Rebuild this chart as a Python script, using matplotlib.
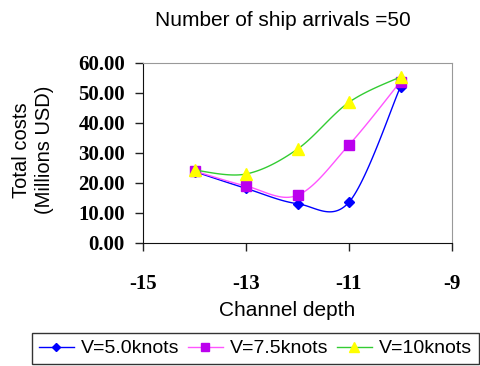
import numpy as np
import matplotlib.pyplot as plt

# datos
depth = [-14, -13, -12, -11, -10]
v50 = [23.8, 18.2, 13.1, 13.6, 52.1]
v75 = [24.0, 19.0, 15.9, 32.7, 53.8]
v100 = [24.3, 23.0, 31.3, 46.9, 55.4]
nombres = ['V=5.0knots', 'V=7.5knots', 'V=10knots']
xticks = [-15, -13, -11, -9]
yticks = [0, 10, 20, 30, 40, 50, 60]


def suavizar(x, y, n=30):
    # curva tipo Catmull-Rom (como el suavizado de Excel)
    x = np.asarray(x, float)
    y = np.asarray(y, float)
    px = np.concatenate([[x[0]], x, [x[-1]]])
    py = np.concatenate([[y[0]], y, [y[-1]]])
    xs, ys = [], []
    t = np.linspace(0, 1, n)
    for i in range(1, len(px) - 2):
        for p, out in ((px, xs), (py, ys)):
            p0, p1, p2, p3 = p[i - 1], p[i], p[i + 1], p[i + 2]
            c1 = p1 + (p2 - p0) / 6
            c2 = p2 - (p3 - p1) / 6
            out.extend((1 - t) ** 3 * p1 + 3 * (1 - t) ** 2 * t * c1
                       + 3 * (1 - t) * t ** 2 * c2 + t ** 3 * p2)
    return xs, ys


fig = plt.figure(figsize=(4.81, 3.66), dpi=100)
ax = fig.add_axes([143 / 481, 1 - 243 / 366, 309 / 481, 180 / 366])

estilos = [('#0000ff', '#0000ff', 'D', 5, 4),
           ('#ff55ff', '#bb00ee', 's', 7.5, 6),
           ('#33cc33', '#ffff00', '^', 8, 7)]
for serie, nombre, (c, mc, m, ms, lms) in zip([v50, v75, v100], nombres, estilos):
    xs, ys = suavizar(depth, serie)
    ax.plot(xs, ys, color=c, lw=1)
    ax.plot(depth, serie, ls='none', marker=m, color=mc, mec=mc, ms=ms)
    ax.plot([], [], color=c, lw=1, marker=m, mfc=mc, mec=mc, ms=lms, label=nombre)

ax.set_xlim(-15, -9)
ax.set_ylim(0, 60)
ax.set_xticks(xticks)
ax.set_xticklabels([str(v) for v in xticks])
ax.set_yticks(yticks)
ax.set_yticklabels(['%.2f' % v for v in yticks])
for lab in ax.get_xticklabels() + ax.get_yticklabels():
    lab.set_fontfamily('Liberation Serif')
    lab.set_fontsize(15)
    lab.set_fontweight('bold')
ax.tick_params(direction='out', length=6, color='#222222', width=1)
ax.tick_params(axis='y', pad=7)
ax.tick_params(axis='x', pad=16)
ax.spines['top'].set_color('#999999')
ax.spines['right'].set_color('#999999')
ax.spines['left'].set_color('#111111')
ax.spines['bottom'].set_color('#111111')

fig.text(283 / 481, 1 - 21 / 366, 'Number of ship arrivals =50', ha='center', va='center',
         fontsize=15, family='Liberation Sans')
fig.text(287 / 481, 1 - 311 / 366, 'Channel depth', ha='center', va='center',
         fontsize=15, family='Liberation Sans')
fig.text(33 / 481, 1 - 150 / 366, 'Total costs\n(Millions USD)', ha='center', va='center',
         rotation=90, fontsize=14.5, family='Liberation Sans', linespacing=1.3)

leg = fig.legend(loc='upper left', bbox_to_anchor=(32 / 481, 1 - 333 / 366), ncol=3,
                 frameon=True, fancybox=False, edgecolor='black',
                 prop={'family': 'Liberation Sans', 'size': 14},
                 handlelength=1.8, handletextpad=0.35, columnspacing=0.45,
                 borderpad=0.35, borderaxespad=0)
leg.get_frame().set_linewidth(1)

plt.savefig('out.png', dpi=100)
